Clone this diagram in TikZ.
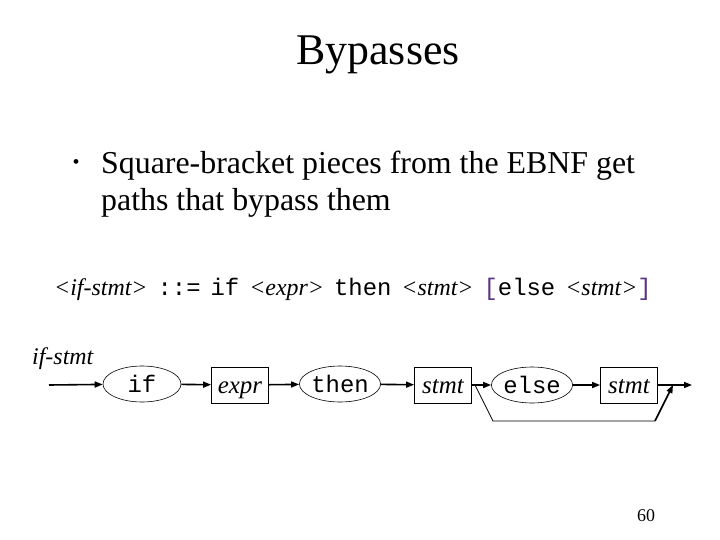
\documentclass[tikz,border=0pt]{standalone}
\usepackage{fontspec}
\setmainfont{Liberation Serif}
\setmonofont{Liberation Mono}
\usetikzlibrary{shapes.geometric,arrows.meta}
\definecolor{brk}{RGB}{90,50,130}
\newcommand{\nt}[1]{\textit{<#1>}}
\newcommand{\gp}{\hspace{10bp}}
\begin{document}
\begin{tikzpicture}[x=1bp,y=-1bp,
  kw/.style={draw,ellipse,line width=0.6bp,minimum width=78bp,minimum height=36bp,inner sep=0pt,text height=16bp,text depth=0bp,font=\fontsize{24}{24}\selectfont\ttfamily},
  nterm/.style={draw,rectangle,line width=0.8bp,minimum width=57bp,minimum height=36bp,inner sep=0pt,text height=16bp,text depth=0bp,font=\fontsize{25}{25}\selectfont\itshape},
  flow/.style={line width=1.6bp,-{Triangle[length=8bp,width=6bp]}},
  thin/.style={line width=0.8bp}]
\useasboundingbox (0,0) rectangle (720,540);
\node[anchor=base,font=\fontsize{44}{44}\selectfont] (title) at (378,65) {Bypasses};
\node[anchor=center,font=\fontsize{20}{20}\selectfont,inner sep=0pt] (bul) at (76,164) {•};
\node[anchor=base west,inner sep=0pt,font=\fontsize{32}{32}\selectfont] (l1) at (101,174) {Square-bracket pieces from the EBNF get};
\node[anchor=base west,inner sep=0pt,font=\fontsize{32}{32}\selectfont] (l2) at (101,211) {paths that bypass them};
\node[anchor=base west,inner sep=0pt,font=\fontsize{24}{24}\selectfont] (bnf) at (54,295)
  {\nt{if-stmt}\gp\texttt{::=}\gp\texttt{if}\gp\nt{expr}\gp\texttt{then}\gp\nt{stmt}\gp\texttt{\textcolor{brk}{[}else}\gp\nt{stmt}\texttt{\textcolor{brk}{]}}};
\node[anchor=base west,inner sep=0pt,font=\fontsize{24}{24}\selectfont\itshape] (lab) at (32,364) {if-stmt};
\node[kw] (if) at (142,384) {if};
\node[nterm] (expr) at (240,385) {expr};
\node[kw] (then) at (340,384) {then};
\node[nterm] (s1) at (443,385) {stmt};
\node[kw] (else) at (532,385) {else};
\node[nterm] (s2) at (629,385) {stmt};
\coordinate (in) at (49,385);
\coordinate (out) at (692,385);
\coordinate (b0) at (475,385);
\coordinate (b1) at (493,421);
\coordinate (b2) at (655,421);
\coordinate (b3) at (673,385);
\draw[flow] (in) -- (if);
\draw[flow] (if) -- (expr);
\draw[flow] (expr) -- (then);
\draw[flow] (then) -- (s1);
\draw[flow] (s1) -- (else);
\draw[flow] (else) -- (s2);
\draw[flow] (s2) -- (out);
\draw[thin] (b0) -- (b1) -- (b2);
\draw[flow] (b2) -- (b3);
\node[anchor=base,font=\fontsize{18}{18}\selectfont] (pg) at (646,521) {60};
\end{tikzpicture}
\end{document}
